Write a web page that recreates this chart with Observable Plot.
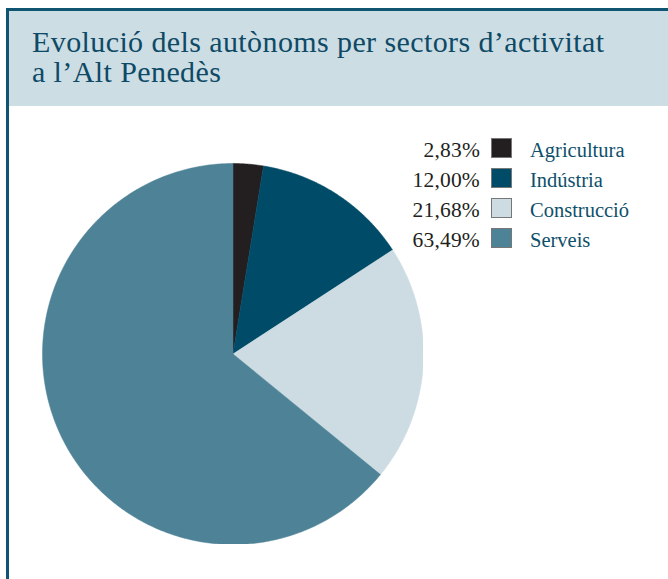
<!DOCTYPE html>
<html><head><meta charset="utf-8">
<script src="https://cdn.jsdelivr.net/npm/d3@7"></script>
<script src="https://cdn.jsdelivr.net/npm/@observablehq/plot@0.6"></script>
<style>
body{margin:0;background:#fff;width:668px;height:579px;overflow:hidden;position:relative;font-family:"Liberation Serif",serif;}
#frame{position:absolute;left:6px;top:8px;width:700px;height:620px;border-left:3px solid #0f5470;border-top:3px solid #0f5470;}
#header{position:absolute;left:0;top:0;right:0;height:95px;background:#cddde4;}
#title{position:absolute;left:23px;top:16px;font-size:30px;line-height:30px;letter-spacing:0.4px;color:#0e4a66;white-space:nowrap;}
#chart{position:absolute;left:42px;top:162.5px;}
.row{position:absolute;left:380px;height:20px;font-size:20.5px;line-height:20px;white-space:nowrap;}
.pct{position:absolute;top:2px;right:188px;color:#231f20;width:100px;text-align:right;font-size:21.5px;letter-spacing:0.2px;}
.sw{position:absolute;left:111px;top:0;width:19px;height:18px;border:1px solid #777;}
.lab{position:absolute;top:2px;left:150px;color:#0e4f6b;}
</style></head><body>
<div id="frame"><div id="header"><div id="title">Evolució dels autònoms per sectors d’activitat<br>a l’Alt Penedès</div></div></div>
<div id="chart"></div>
<div id="legend"></div>
<script>
const sectors = ["Agricultura","Indústria","Construcció","Serveis"];
// slice sizes as drawn in the picture (%)
const values = [2.56, 13.25, 20.1, 64.09];
const labels = ["2,83%","12,00%","21,68%","63,49%"];
const colors = ["#231f20","#004b68","#cddce3","#4e8397"];

const total = d3.sum(values);
const pts = [];
let acc = 0;
sectors.forEach((s,i)=>{
  const a0 = acc/total*2*Math.PI, a1 = (acc+values[i])/total*2*Math.PI;
  acc += values[i];
  pts.push({sector:s,x:0,y:0});
  const n = Math.max(2, Math.ceil((a1-a0)/0.01));
  for(let k=0;k<=n;k++){
    const a = a0+(a1-a0)*k/n;
    pts.push({sector:s,x:Math.sin(a),y:Math.cos(a)});
  }
  pts.push({sector:s,x:0,y:0});
});

const plot = Plot.plot({
  width:381,height:381,margin:0,
  x:{domain:[-1,1],axis:null},
  y:{domain:[-1,1],axis:null},
  color:{domain:sectors,range:colors},
  marks:[
    Plot.line(pts,{x:"x",y:"y",z:"sector",fill:"sector",stroke:"sector",strokeWidth:0.5,curve:"linear"})
  ]
});
document.getElementById("chart").appendChild(plot);

const leg = document.getElementById("legend");
sectors.forEach((s,i)=>{
  const r = document.createElement("div");
  r.className="row"; r.style.top=(137.5+30.3*i)+"px";
  r.innerHTML=`<span class="pct" style="left:0">${labels[i]}</span><span class="sw" style="background:${colors[i]}"></span><span class="lab">${s}</span>`;
  leg.appendChild(r);
});
</script>
</body></html>
